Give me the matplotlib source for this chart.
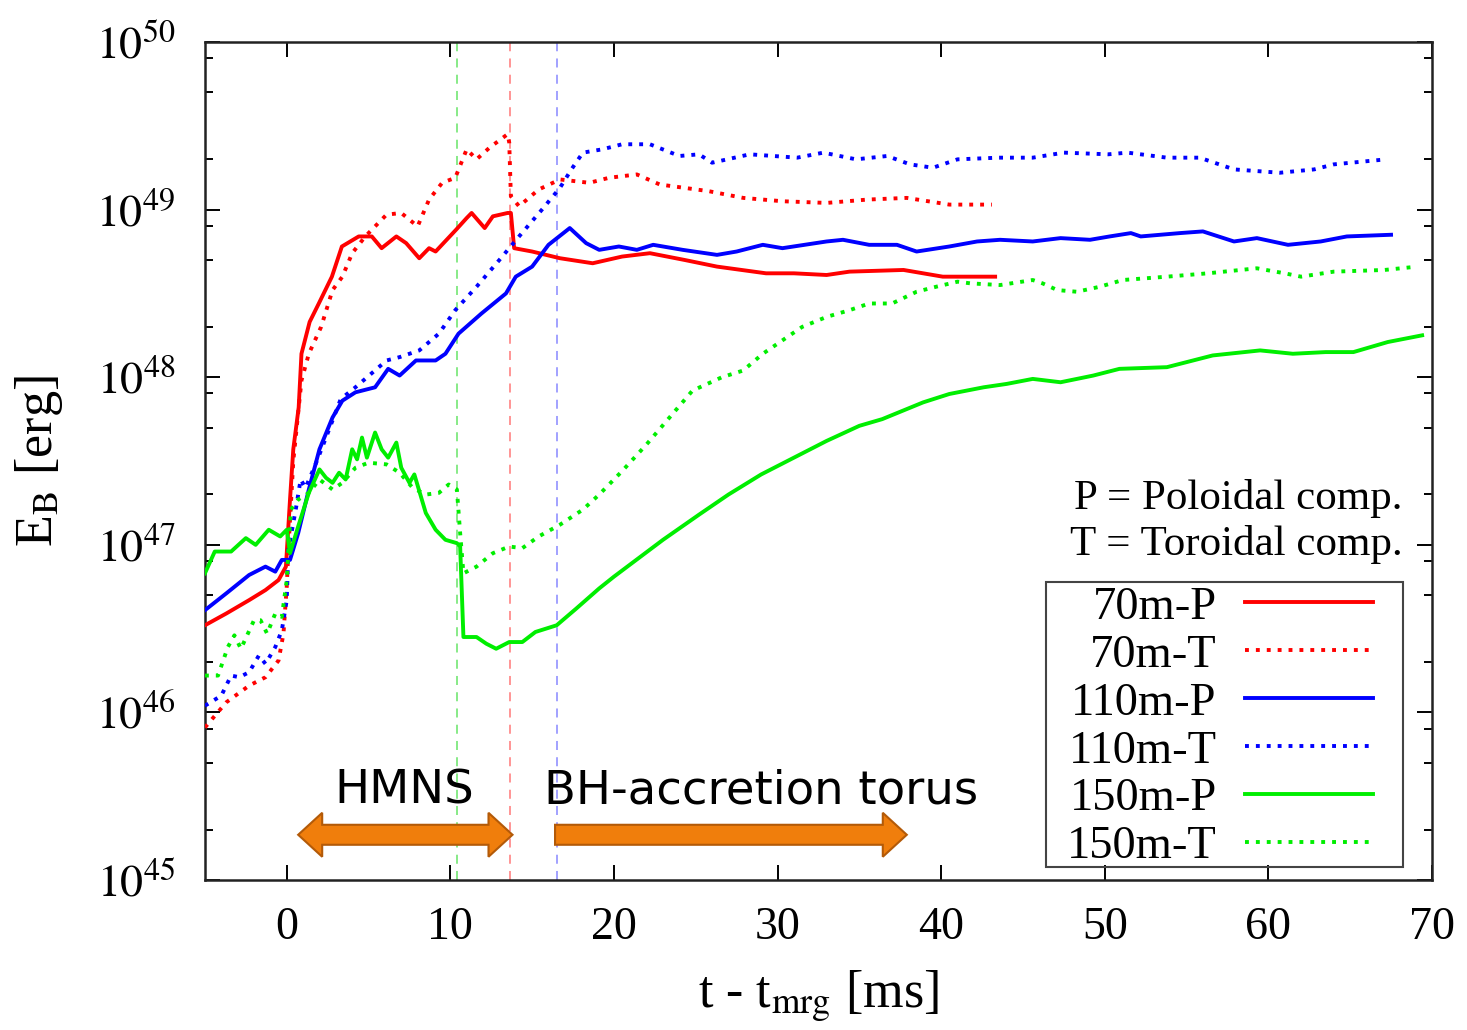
import numpy as np
import matplotlib
matplotlib.use("Agg")
import matplotlib.pyplot as plt
from matplotlib.patches import Polygon, Rectangle
from matplotlib.transforms import IdentityTransform
from matplotlib.ticker import LogLocator, NullFormatter

plt.rcParams['font.family'] = ['Liberation Serif', 'DejaVu Serif']
plt.rcParams['mathtext.fontset'] = 'stix'

# time after merger [ms] and log10 of magnetic energy [erg]
t_70P = [-5.0, -3.7, -2.3, -1.3, -0.5, -0.05, 0.2, 0.4, 0.73, 0.9, 1.4, 1.96, 2.76, 3.37,
         4.4, 5.2, 5.8, 6.7, 7.3, 8.1, 8.7, 9.1, 10.35, 11.0, 11.3, 12.1, 12.6, 13.5, 13.7,
         13.9, 15.0, 16.7, 18.7, 20.5, 22.2, 24.3, 26.3, 29.3, 31.0, 33.0, 34.4, 37.7, 40.1, 43.3]
lg_70P = [46.52, 46.59, 46.67, 46.73, 46.79, 46.87, 47.27, 47.57, 47.82, 48.14, 48.33, 48.44,
          48.60, 48.78, 48.84, 48.84, 48.77, 48.84, 48.80, 48.71, 48.77, 48.75, 48.88, 48.95,
          48.98, 48.89, 48.96, 48.98, 48.98, 48.77, 48.75, 48.71, 48.68, 48.72, 48.74, 48.70,
          48.66, 48.62, 48.62, 48.61, 48.63, 48.64, 48.60, 48.60]

t_70T = [-5.0, -3.7, -2.3, -1.3, -0.5, -0.2, 0.0, 0.1, 0.4, 0.9, 1.35, 2.1, 2.8, 3.4, 4.0,
         4.8, 6.1, 7.0, 8.0, 8.7, 9.5, 10.3, 11.0, 11.6, 12.4, 13.5, 13.6, 13.7, 14.2, 15.4,
         16.7, 18.5, 19.7, 21.4, 22.8, 25.8, 27.9, 30.3, 33.0, 35.5, 37.9, 40.5, 43.1]
lg_70T = [45.91, 46.06, 46.16, 46.21, 46.31, 46.47, 46.75, 46.97, 47.50, 47.98, 48.14, 48.30,
          48.52, 48.60, 48.74, 48.84, 48.97, 48.98, 48.90, 49.06, 49.16, 49.19, 49.36, 49.30,
          49.37, 49.45, 49.40, 49.08, 49.02, 49.12, 49.18, 49.16, 49.19, 49.21, 49.15, 49.11,
          49.07, 49.05, 49.04, 49.06, 49.07, 49.03, 49.03]

t_110P = [-5.0, -3.7, -2.3, -1.3, -0.7, -0.3, 0.2, 0.7, 1.35, 2.0, 2.8, 3.4, 4.2, 5.4, 6.2,
          6.9, 7.9, 9.1, 9.7, 10.5, 11.9, 13.4, 14.0, 15.0, 16.0, 17.3, 18.3, 19.1, 20.3, 21.4,
          22.4, 24.2, 26.3, 27.5, 29.1, 30.3, 33.0, 34.0, 35.6, 37.3, 38.5, 40.5, 42.2, 43.6,
          45.6, 47.3, 49.1, 50.3, 51.6, 52.2, 54.6, 56.0, 57.9, 59.3, 61.2, 63.2, 64.8, 67.5]
lg_110P = [46.61, 46.71, 46.82, 46.87, 46.84, 46.91, 46.91, 47.07, 47.33, 47.57, 47.76, 47.86,
           47.91, 47.94, 48.05, 48.01, 48.10, 48.10, 48.14, 48.26, 48.38, 48.50, 48.60, 48.66,
           48.79, 48.89, 48.80, 48.76, 48.78, 48.76, 48.79, 48.76, 48.73, 48.75, 48.79, 48.77,
           48.81, 48.82, 48.79, 48.79, 48.75, 48.78, 48.81, 48.82, 48.81, 48.83, 48.82, 48.84,
           48.86, 48.84, 48.86, 48.87, 48.81, 48.83, 48.79, 48.81, 48.84, 48.85]

t_110T = [-5.0, -4.0, -3.4, -2.9, -2.3, -1.7, -1.3, -0.7, -0.3, 0.0, 0.1, 0.55, 0.85, 1.15,
          1.8, 2.4, 3.3, 4.2, 6.1, 6.9, 8.1, 9.3, 10.3, 11.6, 13.0, 14.2, 15.6, 16.7, 17.4,
          18.1, 19.3, 20.5, 22.2, 24.0, 25.2, 26.0, 28.3, 31.2, 32.8, 34.8, 36.7, 38.1, 39.5,
          41.0, 43.5, 45.6, 47.5, 50.2, 51.4, 53.8, 55.8, 57.9, 60.7, 62.8, 64.0, 67.2]
lg_110T = [46.04, 46.10, 46.22, 46.21, 46.24, 46.34, 46.29, 46.39, 46.49, 46.67, 46.97, 47.21,
           47.39, 47.34, 47.49, 47.64, 47.87, 47.94, 48.10, 48.12, 48.16, 48.26, 48.40, 48.54,
           48.70, 48.84, 49.00, 49.13, 49.24, 49.34, 49.36, 49.39, 49.39, 49.32, 49.33, 49.28,
           49.33, 49.31, 49.34, 49.30, 49.32, 49.27, 49.25, 49.30, 49.31, 49.31, 49.34, 49.33,
           49.34, 49.31, 49.31, 49.24, 49.22, 49.24, 49.27, 49.30]

t_150P = [-5.0, -4.4, -3.4, -2.5, -1.9, -1.1, -0.4, 0.0, 0.2, 0.7, 1.35, 2.0, 2.4, 2.8, 3.2,
          3.6, 4.0, 4.3, 4.6, 4.9, 5.4, 5.8, 6.2, 6.7, 7.0, 7.5, 7.8, 8.5, 9.1, 9.7, 10.4,
          10.6, 10.8, 11.6, 12.2, 12.8, 13.6, 14.4, 15.2, 16.5, 17.7, 19.1, 20.0, 21.5, 23.0,
          25.2, 27.0, 29.0, 31.4, 33.0, 35.0, 36.4, 38.9, 40.5, 42.6, 44.0, 45.6, 47.3, 49.3,
          50.9, 53.8, 55.0, 56.6, 59.5, 61.5, 63.5, 65.2, 67.3, 69.4]
lg_150P = [46.83, 46.96, 46.96, 47.04, 47.00, 47.09, 47.05, 47.09, 46.95, 47.11, 47.31, 47.45,
           47.40, 47.37, 47.43, 47.39, 47.57, 47.51, 47.64, 47.52, 47.67, 47.57, 47.52, 47.61,
           47.46, 47.37, 47.42, 47.19, 47.09, 47.03, 47.01, 46.99, 46.45, 46.45, 46.41, 46.38,
           46.42, 46.42, 46.48, 46.52, 46.62, 46.74, 46.81, 46.92, 47.03, 47.18, 47.30, 47.42,
           47.54, 47.62, 47.71, 47.75, 47.85, 47.90, 47.94, 47.96, 47.99, 47.97, 48.01, 48.05,
           48.06, 48.09, 48.13, 48.16, 48.14, 48.15, 48.15, 48.21, 48.25]

t_150T = [-5.0, -4.2, -3.6, -3.2, -2.8, -2.0, -1.6, -1.2, -0.7, -0.3, 0.0, 0.25, 0.7, 1.35,
          2.0, 2.8, 3.4, 4.2, 5.0, 6.1, 6.9, 7.7, 8.5, 9.3, 9.9, 10.4, 10.6, 10.8, 11.6, 12.6,
          13.6, 14.4, 15.4, 16.7, 18.1, 19.1, 20.5, 22.0, 23.4, 24.8, 26.6, 27.9, 29.1, 30.3,
          31.5, 33.0, 34.4, 35.6, 37.0, 38.5, 39.7, 41.0, 41.8, 43.6, 45.6, 46.2, 47.1, 48.3,
          49.7, 51.1, 53.8, 56.3, 59.3, 61.0, 62.0, 64.0, 67.1, 69.1]
lg_150T = [46.22, 46.22, 46.39, 46.46, 46.38, 46.55, 46.55, 46.47, 46.59, 46.57, 46.79, 47.21,
           47.27, 47.31, 47.39, 47.33, 47.37, 47.46, 47.49, 47.48, 47.43, 47.34, 47.30, 47.31,
           47.36, 47.33, 47.07, 46.83, 46.87, 46.95, 46.99, 46.98, 47.05, 47.12, 47.21, 47.30,
           47.44, 47.60, 47.76, 47.92, 48.00, 48.04, 48.14, 48.22, 48.30, 48.36, 48.40, 48.44,
           48.44, 48.51, 48.54, 48.57, 48.56, 48.55, 48.58, 48.56, 48.52, 48.51, 48.54, 48.58,
           48.60, 48.62, 48.65, 48.62, 48.60, 48.63, 48.64, 48.66]

# black hole formation times for 150m, 70m, 110m
t_bh = [10.4, 13.65, 16.5]
bh_colors = ['#7ee87e', '#ff8c8c', '#9a9aff']

# phase arrows: (label, label centre, start, end, heads on both ends)
phases = [('HMNS', 7.2, 0.7, 13.8, True),
          ('BH-accretion torus', 29.0, 16.4, 37.9, False)]

RED, BLUE, GREEN = '#ff0000', '#0000ff', '#00ee00'
DOT = (0, (1, 1.8))

fig = plt.figure(figsize=(14.67, 10.30), dpi=100)
ax = fig.add_axes([0.1397, 0.1456, 0.8364, 0.8136])

for tb, c in zip(t_bh, bh_colors):
    ax.axvline(tb, color=c, lw=1.3, ls=(0, (5, 4)), zorder=1)

series = [
    (t_70P, lg_70P, RED, '-', '70m-P'),
    (t_70T, lg_70T, RED, DOT, '70m-T'),
    (t_110P, lg_110P, BLUE, '-', '110m-P'),
    (t_110T, lg_110T, BLUE, DOT, '110m-T'),
    (t_150P, lg_150P, GREEN, '-', '150m-P'),
    (t_150T, lg_150T, GREEN, DOT, '150m-T'),
]
for t, lg, c, ls, lab in series:
    ax.plot(t, 10 ** np.array(lg), color=c, ls=ls, lw=2.8, label=lab, zorder=3)

ax.set_yscale('log')
ax.set_xlim(-5, 70)
ax.set_ylim(1e45, 1e50)
ax.set_xticks(range(0, 71, 10))
ax.set_yticks([10.0 ** k for k in range(45, 51)])
ax.set_yticklabels([r'$10^{%d}$' % k for k in range(45, 51)])
ax.yaxis.set_minor_locator(LogLocator(base=10, subs=[2, 5, 8]))
ax.yaxis.set_minor_formatter(NullFormatter())
ax.tick_params(which='both', direction='in', top=True, right=True, width=1.4)
ax.tick_params(which='major', length=11)
ax.tick_params(which='minor', length=6)
ax.tick_params(axis='x', labelsize=33, pad=19)
ax.tick_params(axis='y', labelsize=33, pad=21)
for s in ax.spines.values():
    s.set_linewidth(1.8)
    s.set_color('#222222')

ax.set_xlabel(r't - t$_\mathrm{mrg}$ [ms]', fontsize=37.5, labelpad=14)
ax.set_ylabel(r'E$_\mathrm{B}$ [erg]', fontsize=37.5, labelpad=22)

# legend entries without frame, boxed separately
leg = ax.legend(loc='lower right', bbox_to_anchor=(0.9592, 0.0028), borderaxespad=0,
                markerfirst=False, fontsize=33.5, handlelength=2.75, handletextpad=0.6,
                labelspacing=0.115, borderpad=0.2, frameon=False)
ax.add_patch(Rectangle((0.6854, 0.0155), 0.291, 0.3401, transform=ax.transAxes,
                       fill=False, ec='#444444', lw=1.5, zorder=6))

ax.text(0.976, 0.428, 'P = Poloidal comp.\nT = Toroidal comp.', transform=ax.transAxes,
        ha='right', va='center', fontsize=31, linespacing=1.25)


def arrow_poly(x0, x1, y, both, shaft=10, head=22, hlen=24):
    # block arrow outline in pixel coordinates
    right = [(x1 - hlen, y + shaft), (x1 - hlen, y + head), (x1, y),
             (x1 - hlen, y - head), (x1 - hlen, y - shaft)]
    if both:
        left = [(x0 + hlen, y - shaft), (x0 + hlen, y - head), (x0, y),
                (x0 + hlen, y + head), (x0 + hlen, y + shaft)]
    else:
        left = [(x0, y - shaft), (x0, y + shaft)]
    return left[-1:] + right + left[:-1]


y_arr = 10 ** 45.27
y_txt = 10 ** 45.53
for label, tc, ta, tb, both in phases:
    (xa, ya), (xb, _) = ax.transData.transform([(ta, y_arr), (tb, y_arr)])
    ax.add_patch(Polygon(arrow_poly(xa, xb, ya, both), closed=True, transform=IdentityTransform(),
                         fc='#f07e0c', ec='#b35a08', lw=1.5, zorder=4))
    ax.text(tc, y_txt, label, ha='center', va='center', fontsize=33.5,
            family='DejaVu Sans', zorder=5)

fig.savefig('out.png', dpi=100)
